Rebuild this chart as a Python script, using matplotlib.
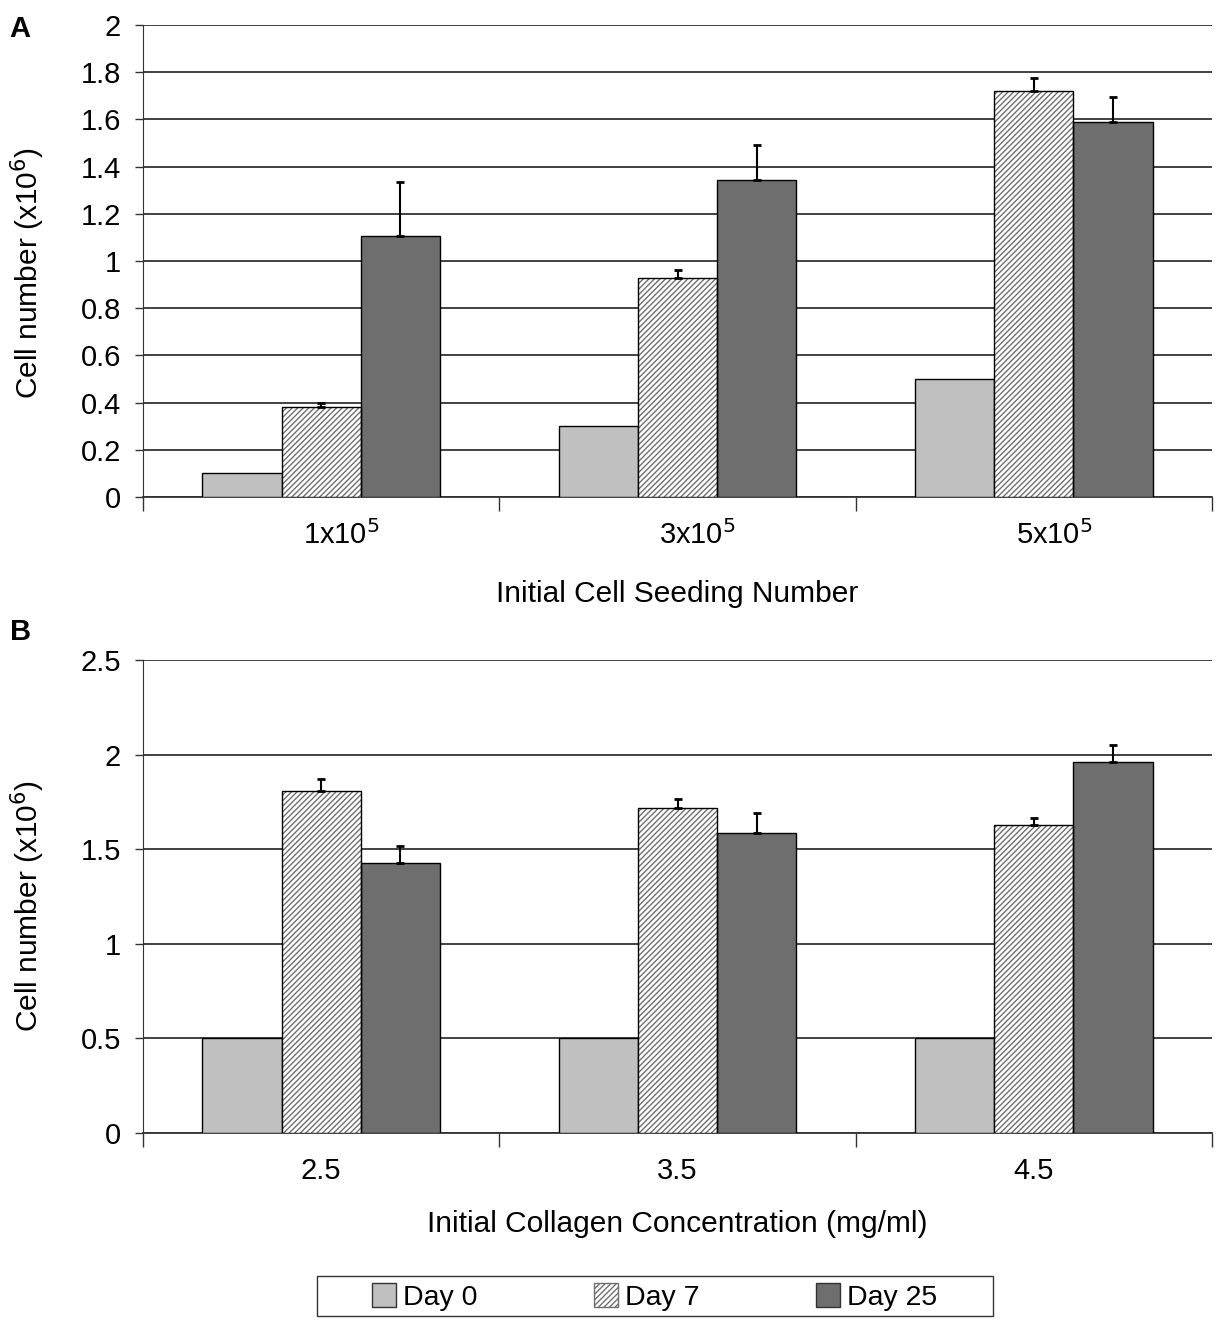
import matplotlib
matplotlib.use("Agg")
import matplotlib.pyplot as plt
import matplotlib.transforms as mtransforms
import numpy as np
from matplotlib.patches import Patch, Rectangle

plt.rcParams['font.family'] = ['Liberation Sans', 'DejaVu Sans']
plt.rcParams['hatch.linewidth'] = 1.0

series = ["Day 0", "Day 7", "Day 25"]

cats_a = [r"1x10$^{5}$", r"3x10$^{5}$", r"5x10$^{5}$"]
a_day0 = [0.10, 0.30, 0.50]
a_day7 = [0.38, 0.93, 1.72]
a_day25 = [1.105, 1.343, 1.59]
a_err7 = [0.02, 0.03, 0.055]
a_err25 = [0.23, 0.15, 0.105]

cats_b = ["2.5", "3.5", "4.5"]
b_day0 = [0.50, 0.50, 0.50]
b_day7 = [1.81, 1.718, 1.628]
b_day25 = [1.427, 1.586, 1.961]
b_err7 = [0.06, 0.045, 0.035]
b_err25 = [0.09, 0.105, 0.09]

C0 = "#c0c0c0"
C25 = "#6e6e6e"
HATCH_C = "#707070"
FS = 21
LFS = 21.5

fig = plt.figure(figsize=(12.19, 13.2), dpi=100)
axA = fig.add_axes([0.1173, 0.6235, 0.877, 0.3575])
axB = fig.add_axes([0.1173, 0.1417, 0.877, 0.3583])


def draw(ax, cats, d0, d7, d25, e7, e25, ylim, yticks, yticklabels, xlabel,
         xlab_shift, ylab_y, xlabelpad):
    x = np.arange(len(cats))
    w = 0.222
    ax.bar(x - w, d0, w, color=C0, edgecolor="black", linewidth=1, zorder=3)
    ax.bar(x, d7, w, color="white", edgecolor=HATCH_C, hatch="//////", linewidth=0, zorder=3)
    ax.bar(x, d7, w, fill=False, edgecolor="black", linewidth=1, zorder=4)
    ax.bar(x + w, d25, w, color=C25, edgecolor="black", linewidth=1, zorder=3)
    ax.errorbar(x, d7, yerr=[np.zeros(len(x)), e7], fmt="none", ecolor="black",
                elinewidth=1.5, capsize=3, capthick=2, zorder=5)
    ax.errorbar(x + w, d25, yerr=[np.zeros(len(x)), e25], fmt="none", ecolor="black",
                elinewidth=1.5, capsize=3, capthick=2, zorder=5)
    ax.set_xlim(-0.5, len(cats) - 0.5)
    ax.set_ylim(*ylim)
    ax.set_yticks(yticks)
    ax.set_yticklabels(yticklabels, fontsize=FS)
    ax.yaxis.grid(True, color="#333333", linewidth=1.3, zorder=0)
    ax.set_axisbelow(True)
    ax.set_xticks(x)
    ax.set_xticklabels(cats, fontsize=FS)
    ax.tick_params(axis="x", length=0, pad=17)
    ax.set_xticks(np.arange(-0.5, len(cats), 1.0), minor=True)
    ax.tick_params(axis="x", which="minor", length=10, width=1, color="#333333")
    ax.tick_params(axis="y", length=6, width=1, color="#333333", pad=10)
    if xlab_shift:
        off = mtransforms.ScaledTranslation(xlab_shift / 100.0, 0, fig.dpi_scale_trans)
        for lab in ax.get_xticklabels():
            lab.set_transform(lab.get_transform() + off)
    for s in ["top", "right"]:
        ax.spines[s].set_visible(False)
    ax.spines["left"].set_color("#333333")
    ax.spines["bottom"].set_color("#333333")
    ax.spines["bottom"].set_linewidth(1.3)
    ax.set_xlabel(xlabel, fontsize=LFS, labelpad=xlabelpad)
    ax.set_ylabel(r"Cell number (x10$^{6}$)", fontsize=LFS)
    ax.yaxis.set_label_coords(-0.090, ylab_y)


draw(axA, cats_a, a_day0, a_day7, a_day25, a_err7, a_err25,
     (0, 2), np.arange(0, 2.01, 0.2),
     ["0", "0.2", "0.4", "0.6", "0.8", "1", "1.2", "1.4", "1.6", "1.8", "2"],
     "Initial Cell Seeding Number", 20, 0.474, 21)
draw(axB, cats_b, b_day0, b_day7, b_day25, b_err7, b_err25,
     (0, 2.5), np.arange(0, 2.51, 0.5),
     ["0", "0.5", "1", "1.5", "2", "2.5"],
     "Initial Collagen Concentration (mg/ml)", 0, 0.48, 18)

fig.text(0.008, 0.978, "A", fontsize=21, fontweight="bold", va="center")
fig.text(0.008, 0.521, "B", fontsize=21, fontweight="bold", va="center")

# legend frame
fig.patches.append(Rectangle((0.26, 0.003), 0.5546, 0.0303, transform=fig.transFigure,
                             fill=False, edgecolor="#333333", linewidth=1))

handles = [
    Patch(facecolor=C0, edgecolor="#333333", linewidth=1),
    Patch(facecolor="white", edgecolor=HATCH_C, hatch="//////", linewidth=1),
    Patch(facecolor=C25, edgecolor="#333333", linewidth=1),
]
leg = fig.legend(handles, series, loc="center", ncol=3,
                 bbox_to_anchor=(0.5372, 0.0175),
                 fontsize=20.5, frameon=False,
                 handlelength=0.85, handleheight=0.95, handletextpad=0.25,
                 columnspacing=4.08, borderpad=0, borderaxespad=0)

fig.savefig("out.png", dpi=100)
